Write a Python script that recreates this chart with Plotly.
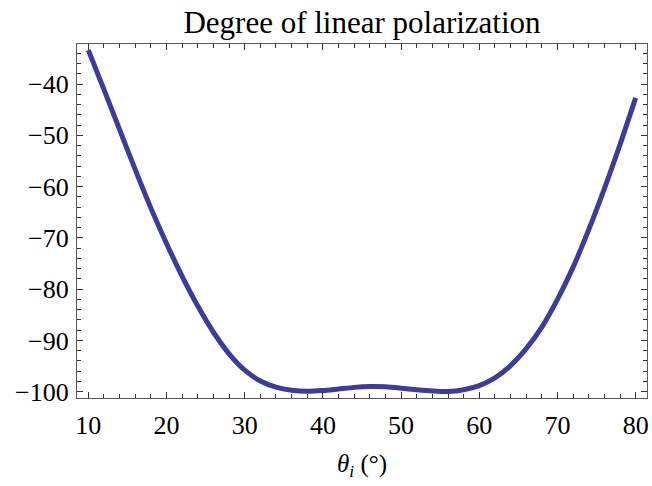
import plotly.graph_objects as go

# incidence angle (degrees)
theta_i = [10, 12, 14, 16, 18, 20, 22, 24, 26, 28, 30, 32, 34, 36, 38, 40,
           42, 44, 46, 48, 50, 52, 54, 56, 58, 60, 62, 64, 66, 68, 70, 72,
           74, 76, 78, 80]
# degree of linear polarization
dolp = [-33.4, -41.1, -48.9, -56.7, -64.2, -71.1, -77.5, -83.3, -88.4, -92.6,
        -95.8, -97.9, -99.1, -99.7, -99.9, -99.75, -99.45, -99.15, -99.0, -99.05,
        -99.3, -99.6, -99.85, -99.95, -99.6, -98.8, -97.3, -94.9, -91.6, -87.4,
        -82.0, -75.7, -68.4, -60.4, -51.8, -42.7]

title_text = "Degree of linear polarization"
x_title = "<i>θ<sub>i</sub></i> (°)"

FONT = "'Liberation Serif', 'Times New Roman', serif"
FRAME = "#5a5a5a"

fig = go.Figure()
fig.add_trace(go.Scatter(
    x=theta_i, y=dolp, mode="lines",
    line=dict(color="#3d3d99", width=5, shape="spline", smoothing=0.8),
    showlegend=False, hoverinfo="skip",
))

axis_common = dict(
    showline=True, linecolor=FRAME, linewidth=1.3, mirror="allticks",
    ticks="inside", ticklen=6, tickwidth=1, tickcolor="#333333",
    showgrid=False, zeroline=False,
    tickfont=dict(family=FONT, size=26, color="black"),
    minor=dict(ticks="inside", ticklen=3.5, tickwidth=1, tickcolor="#333333",
               dtick=2, showgrid=False),
)

fig.update_xaxes(range=[8.55, 81.45], tick0=10, dtick=10, ticklabelstandoff=4,
                 **axis_common)
fig.update_yaxes(range=[-101.22, -32.2], tick0=-100, dtick=10,
                 ticklabelstandoff=2, **axis_common)

fig.update_layout(
    width=652, height=486,
    margin=dict(l=77, r=3, t=44, b=88, pad=0),
    paper_bgcolor="white", plot_bgcolor="white",
    title=dict(text=title_text, x=0.5, xref="paper", xanchor="center",
               y=1 - 22 / 486, yref="container", yanchor="middle",
               font=dict(family=FONT, size=31, color="black")),
    annotations=[dict(text=x_title, x=0.5, xref="paper", xanchor="center",
                      y=-0.19, yref="paper", yanchor="middle", showarrow=False,
                      font=dict(family=FONT, size=25, color="black"))],
)

fig.write_html("out.html")
